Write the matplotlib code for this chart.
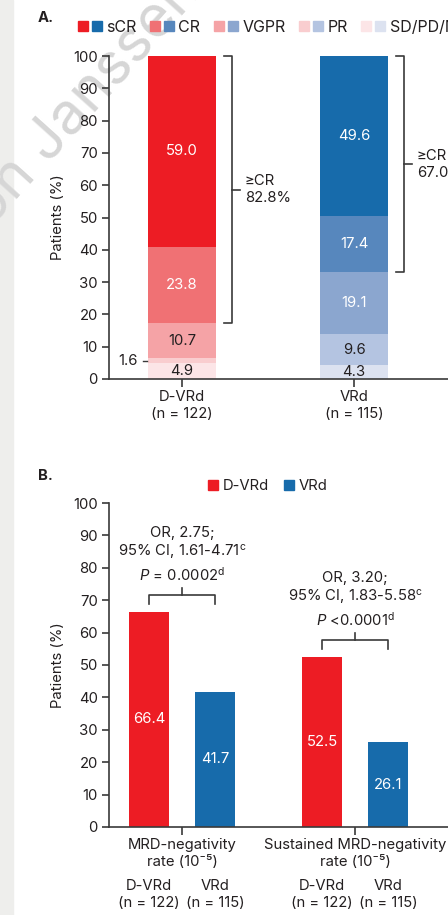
import matplotlib
matplotlib.use("Agg")
import matplotlib.pyplot as plt
from matplotlib.patches import Patch, Rectangle
from matplotlib.legend_handler import HandlerTuple

plt.rcParams['font.family'] = ['Inter', 'DejaVu Sans']
plt.rcParams['mathtext.fontset'] = 'custom'
plt.rcParams['mathtext.rm'] = 'Inter'
plt.rcParams['mathtext.it'] = 'Inter:italic'
FS = 10.7

# panel A data (first item = top of the stack)
resp_cats = ['sCR', 'CR', 'VGPR', 'PR', 'SD/PD/NR']
arms = ['D-VRd\n(n = 122)', 'VRd\n(n = 115)']
dvrd_resp = [59.0, 23.8, 10.7, 1.6, 4.9]
vrd_resp = [49.6, 17.4, 19.1, 9.6, 4.3]
cr_or_better = [82.8, 67.0]

# panel B data
mrd_groups = ['MRD-negativity\nrate (10⁻⁵)', 'Sustained MRD-negativity\nrate (10⁻⁵)']
mrd_dvrd = [66.4, 52.5]
mrd_vrd = [41.7, 26.1]
mrd_stats = [
    'OR, 2.75;\n95% CI, 1.61-4.71$^{\\mathrm{c}}$\n$\\mathit{P}$ = 0.0002$^{\\mathrm{d}}$',
    'OR, 3.20;\n95% CI, 1.83-5.58$^{\\mathrm{c}}$\n$\\mathit{P}$ <0.0001$^{\\mathrm{d}}$',
]
sub_arms = ['D-VRd\n(n = 122)', 'VRd\n(n = 115)']

reds = ['#ed1c24', '#f07174', '#f5a3a6', '#f9cdcf', '#fce5e7']
blues = ['#176bab', '#5787bd', '#8ba6cf', '#b4c4e1', '#dce2f0']
red_txt = ['white', 'white', '#231f20', '#231f20', '#231f20']
blue_txt = ['white', 'white', 'white', '#231f20', '#231f20']
dark = '#3a3a3a'
txt = '#231f20'

W, H = 448, 915
fig = plt.figure(figsize=(W / 100, H / 100), dpi=100)
fig.add_artist(Rectangle((0, 0), 13 / W, 1, transform=fig.transFigure,
                         color='#eeeeec', zorder=-2))
fig.text(-0.02, 1 - 228 / H, 'on Janssen', rotation=48, fontsize=42, color='#d6d6d6',
         zorder=-1, ha='left', va='baseline', rotation_mode='anchor')


def style_axes(ax):
    ax.patch.set_alpha(0)
    for s in ['top', 'right']:
        ax.spines[s].set_visible(False)
    for s in ['left', 'bottom']:
        ax.spines[s].set_color(dark)
        ax.spines[s].set_linewidth(1.2)
    ax.set_ylim(0, 100)
    ax.set_yticks(range(0, 101, 10))
    ax.tick_params(axis='y', length=5, width=1.2, color=dark, pad=3,
                   labelsize=FS, labelcolor=txt)
    ax.tick_params(axis='x', length=6, width=1.2, color=dark, pad=2,
                   labelsize=FS, labelcolor=txt)
    ax.set_ylabel('Patients (%)', fontsize=FS, color=txt)
    ax.yaxis.set_label_coords(-0.125, 0.5)


# ---------- panel A ----------
axA = fig.add_axes([109 / W, 1 - 379 / H, (460 - 109) / W, (379 - 56) / H])
style_axes(axA)
axA.set_xlim(-0.424, 1.616)
bw = 0.39
for i, (vals, cols, tcols) in enumerate([(dvrd_resp, reds, red_txt),
                                         (vrd_resp, blues, blue_txt)]):
    bottom = 0
    for v, c, tc in list(zip(vals, cols, tcols))[::-1]:
        axA.bar(i, v, bw, bottom=bottom, color=c, linewidth=0)
        if v >= 3:
            axA.text(i, bottom + v / 2, f'{v:.1f}', ha='center', va='center',
                     color=tc, fontsize=FS)
        else:
            axA.plot([i - 0.227, i - 0.203], [bottom + v / 2] * 2, color=dark, lw=1)
            axA.text(i - 0.256, bottom + v / 2, f'{v:.1f}', ha='right',
                     va='center', color=txt, fontsize=FS)
        bottom += v

# >=CR brackets
for i, (vals, pct) in enumerate(zip([dvrd_resp, vrd_resp], cr_or_better)):
    lo = 100 - vals[0] - vals[1]
    xv = i + 0.29
    axA.plot([xv - 0.046, xv, xv, xv - 0.046], [100, 100, lo, lo],
             color=dark, lw=1.2, clip_on=False)
    mid = (100 + lo) / 2
    axA.plot([xv, xv + 0.047], [mid, mid], color=dark, lw=1.2, clip_on=False)
    axA.text(xv + 0.076, mid, f'≥CR\n{pct:.1f}%', ha='left', va='center',
             color=txt, fontsize=FS, linespacing=1.25)

axA.set_xticks([0, 1])
axA.set_xticklabels(arms, linespacing=1.3)

handles = [(Patch(color=r), Patch(color=b)) for r, b in zip(reds, blues)]
fig.legend(handles, resp_cats, handler_map={tuple: HandlerTuple(ndivide=None, pad=0.25)},
           ncol=5, frameon=False, loc='center left', bbox_to_anchor=(78 / W, 1 - 27 / H),
           borderpad=0, borderaxespad=0, handlelength=1.5, handleheight=0.63,
           handletextpad=0.27, columnspacing=0.85, fontsize=11.5, labelcolor=txt)
fig.text(38 / W, 1 - 18 / H, 'A.', fontsize=FS, fontweight='bold', color=txt,
         ha='left', va='center')

# ---------- panel B ----------
axB = fig.add_axes([109 / W, 1 - 827 / H, (460 - 109) / W, (827 - 503) / H])
style_axes(axB)
axB.set_xlim(-0.422, 1.607)
off, bwB = 0.19, 0.231
xs = range(len(mrd_groups))
for j, (vals, col) in enumerate([(mrd_dvrd, reds[0]), (mrd_vrd, blues[0])]):
    for x, v in zip(xs, vals):
        xb = x - off if j == 0 else x + off
        axB.bar(xb, v, bwB, color=col, linewidth=0)
        axB.text(xb, v / 2, f'{v:.1f}', ha='center', va='center', color='white',
                 fontsize=FS)

for x, a, b, s in zip(xs, mrd_dvrd, mrd_vrd, mrd_stats):
    yb = max(a, b) + 5.2
    axB.plot([x - off, x - off, x + off, x + off], [yb - 2.8, yb, yb, yb - 2.8],
             color=dark, lw=1.2)
    axB.plot([x, x], [yb, yb + 2.2], color=dark, lw=1.2)
    axB.text(x, yb + 3.4, s, ha='center', va='bottom', color=txt, fontsize=FS,
             linespacing=1.25)
    for k, lab in enumerate(sub_arms):
        axB.text(x + (-off if k == 0 else off), -0.16, lab,
                 transform=axB.get_xaxis_transform(), ha='center', va='top',
                 color=txt, fontsize=FS, linespacing=1.3)

axB.set_xticks(list(xs))
axB.set_xticklabels(mrd_groups, linespacing=1.3)

fig.legend([Patch(color=reds[0]), Patch(color=blues[0])], ['D-VRd', 'VRd'],
           ncol=2, frameon=False, loc='center left', bbox_to_anchor=(208 / W, 1 - 486 / H),
           borderpad=0, borderaxespad=0, handlelength=0.68, handleheight=0.68,
           handletextpad=0.3, columnspacing=1.0, fontsize=FS, labelcolor=txt)
fig.text(38 / W, 1 - 476 / H, 'B.', fontsize=FS, fontweight='bold', color=txt,
         ha='left', va='center')

fig.savefig('out.png', dpi=100)
